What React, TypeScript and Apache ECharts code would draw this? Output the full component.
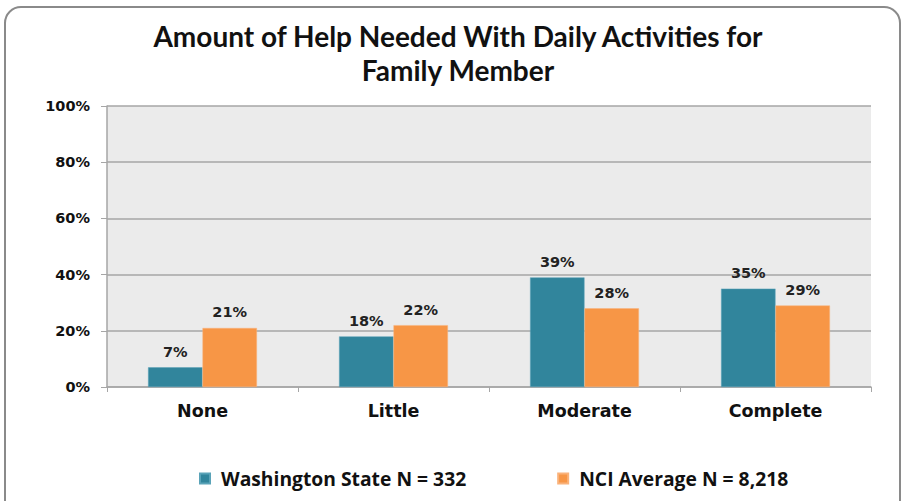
import React, { useEffect, useRef } from "react";
import * as echarts from "echarts";

const categories = ["None", "Little", "Moderate", "Complete"];
const washington = [7, 18, 39, 35];
const nciAverage = [21, 22, 28, 29];
const seriesNames = ["Washington State N = 332", "NCI Average N = 8,218"];
const titleLines = ["Amount of Help Needed With Daily Activities for", "Family Member"];

export default function App() {
  const ref = useRef<HTMLDivElement>(null);
  useEffect(() => {
    if (!ref.current) return;
    const chart = echarts.init(ref.current, null, { renderer: "svg" });
    const labelCfg = {
      show: true,
      position: "top",
      distance: 8,
      formatter: "{c}%",
      fontFamily: "DejaVu Sans",
      fontWeight: "bold",
      fontSize: 14.5,
      color: "#222",
    };
    const titleStyle = {
      fontFamily: "Lato",
      fontWeight: "bold",
      fontSize: 28,
      lineHeight: 34,
      color: "#111",
    };
    chart.setOption({
      animation: false,
      backgroundColor: "#ffffff",
      graphic: [
        {
          type: "rect",
          shape: { x: 5, y: 7, width: 895, height: 520, r: 16 },
          style: { fill: "none", stroke: "#8a8a8a", lineWidth: 2 },
          z: -1,
        },
      ],
      title: titleLines.map((t, i) => ({
        text: t,
        left: 458,
        textAlign: "center",
        top: 19 + i * 34,
        padding: 0,
        textStyle: titleStyle,
      })),
      legend: {
        bottom: 8,
        left: 194,
        itemGap: 91,
        itemWidth: 10,
        itemHeight: 10,
        icon: "rect",
        textStyle: {
          fontFamily: "Open Sans",
          fontWeight: "bold",
          fontSize: 19.3,
          color: "#111",
          padding: [0, 0, 0, 6],
        },
        data: seriesNames,
      },
      grid: {
        left: 107,
        right: 32,
        top: 106,
        bottom: 114,
        show: true,
        backgroundColor: "#ebebeb",
        borderWidth: 0,
      },
      xAxis: {
        type: "category",
        data: categories,
        axisLine: { lineStyle: { color: "#a6a6a6", width: 1.5 } },
        axisTick: { show: true, length: 5, alignWithLabel: false, lineStyle: { color: "#a6a6a6" } },
        axisLabel: {
          fontFamily: "DejaVu Sans",
          fontWeight: "bold",
          fontSize: 17.5,
          color: "#111",
          margin: 15,
        },
      },
      yAxis: {
        type: "value",
        min: 0,
        max: 100,
        interval: 20,
        axisLine: { show: true, lineStyle: { color: "#a6a6a6", width: 1.5 } },
        axisTick: { show: true, length: 6, lineStyle: { color: "#a6a6a6" } },
        axisLabel: {
          formatter: "{value}%",
          fontFamily: "DejaVu Sans",
          fontWeight: "bold",
          fontSize: 14.5,
          color: "#111",
          margin: 17,
        },
        splitLine: { lineStyle: { color: "#a6a6a6", width: 1.5 } },
      },
      series: [
        {
          name: seriesNames[0],
          type: "bar",
          data: washington,
          barGap: "0%",
          barCategoryGap: "43%",
          itemStyle: { color: "#31859c", borderColor: "#5aa3b8", borderWidth: 0.5 },
          label: labelCfg,
        },
        {
          name: seriesNames[1],
          type: "bar",
          data: nciAverage,
          itemStyle: { color: "#f79646", borderColor: "#fab27a", borderWidth: 0.5 },
          label: labelCfg,
        },
      ],
    });
    return () => chart.dispose();
  }, []);
  return (
    <div
      ref={ref}
      style={{ position: "fixed", left: 0, top: 0, width: 903, height: 501 }}
    />
  );
}
